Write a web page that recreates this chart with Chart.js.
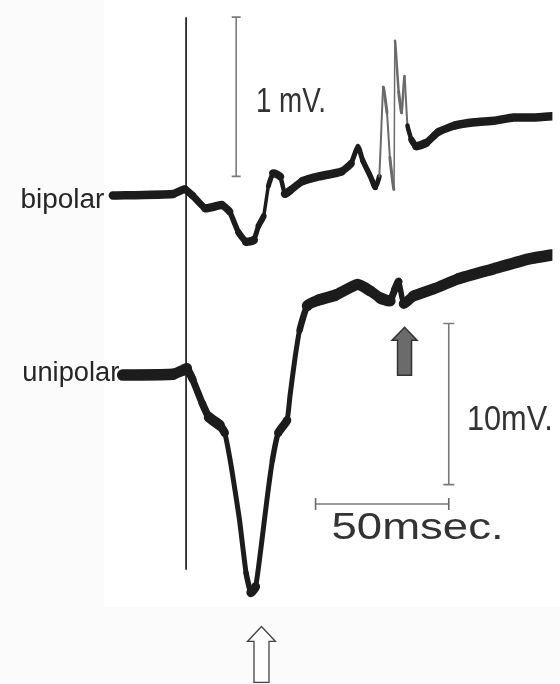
<!DOCTYPE html>
<html>
<head>
<meta charset="utf-8">
<style>
  html, body { margin: 0; padding: 0; background: #ffffff; }
  #wrap { width: 560px; height: 684px; }
</style>
<script src="https://cdn.jsdelivr.net/npm/chart.js@4.4.1/dist/chart.umd.min.js"></script>
</head>
<body>
<div id="wrap"><canvas id="c" width="560" height="684"></canvas></div>
<script>
// ---------- data (time in ms from the onset marker, voltages in mV) ----------
const TIME_BIPOLAR = [-27.5, -4.9, -0.5, 2.4, 7.2, 13.4, 16.3, 19.6, 22.5, 25.4, 27.2, 29.1, 30.9, 32.7, 35.3, 37.1, 38.9, 43.7, 49.9, 58.3, 61.9, 64.5, 66.3, 69.2, 71.0, 72.5, 74.0, 75.4, 76.5, 78.0, 78.4, 79.8, 80.9, 82.0, 83.1, 84.6, 86.4, 90.1, 94.8, 101.0, 108.3, 115.6, 122.9, 130.2, 139.3];
const BIPOLAR_MV   = [0.00, 0.01, 0.04, 0.00, -0.08, -0.06, -0.10, -0.23, -0.29, -0.28, -0.19, -0.13, 0.06, 0.14, 0.12, 0.01, 0.03, 0.09, 0.12, 0.15, 0.20, 0.31, 0.22, 0.12, 0.05, 0.12, 0.68, 0.52, 0.24, 0.04, 0.97, 0.65, 0.52, 0.75, 0.44, 0.35, 0.31, 0.33, 0.40, 0.44, 0.46, 0.47, 0.49, 0.49, 0.50];

const TIME_UNIPOLAR = [-23.8, -4.9, -1.2, 0.2, 2.4, 6.1, 8.6, 12.6, 14.5, 17.0, 20.0, 22.5, 24.3, 26.1, 28.0, 30.5, 32.4, 34.6, 37.9, 39.0, 40.8, 42.6, 45.5, 49.9, 56.1, 64.5, 69.2, 72.9, 76.5, 78.4, 79.8, 81.7, 85.3, 93.7, 102.5, 115.6, 128.8, 139.3];
const UNIPOLAR_MV   = [0.00, 0.05, 0.29, 0.41, -0.25, -1.77, -2.62, -3.11, -3.59, -5.72, -8.93, -12.27, -13.49, -13.13, -10.87, -7.54, -5.29, -3.59, -2.80, -1.29, 0.96, 2.78, 4.30, 4.66, 4.96, 5.63, 5.21, 4.78, 4.60, 5.33, 5.81, 4.42, 4.90, 5.39, 5.99, 6.60, 7.21, 7.51];

// onset marker (vertical line), in bipolar-axis mV
const ONSET_TIME = [0, 0];
const ONSET_MV   = [1.12, -2.35];

// calibration bars
const BAR_1MV_TIME  = [18.8, 18.8];
const BAR_1MV_MV    = [0.12, 1.12];
const BAR_10MV_TIME = [98.6, 98.6];
const BAR_10MV_MV   = [-6.8, 3.2];
const BAR_50MS_TIME = [48.6, 98.6];
const BAR_50MS_MV   = [-8.0, -8.0];

// text labels
const TRACE_LABELS = ["bipolar", "unipolar"];
const BAR_LABELS   = ["1 mV.", "10mV.", "50msec."];

// ---------- helpers ----------
const pts = (xs, ys) => xs.map((x, i) => ({ x: x, y: ys[i] }));

// pen trace: a band of roughly constant vertical height, thinner where it moves fast
function bandWidth(h, minW) {
  return function (ctx) {
    const dx = Math.abs(ctx.p1.x - ctx.p0.x);
    const dy = Math.abs(ctx.p1.y - ctx.p0.y);
    const len = Math.hypot(dx, dy) || 1;
    const w = Math.max(minW, h * Math.pow(dx / len, 0.5));
    return Math.round(w * 2) / 2;
  };
}
// the fast fractionated deflections are written faintly
function bandColor(h, minW, thin, thick, fromTime) {
  const f = bandWidth(h, minW);
  return function (ctx) {
    return (f(ctx) < 3.6 && ctx.p0.parsed.x >= fromTime) ? thin : thick;
  };
}

function fitText(ctx, text, x, y, size, family, width, color) {
  ctx.save();
  ctx.font = size + 'px ' + family;
  ctx.fillStyle = color;
  ctx.textBaseline = 'alphabetic';
  ctx.textAlign = 'left';
  const w = ctx.measureText(text).width;
  ctx.translate(x, y);
  ctx.scale(width / w, 1);
  ctx.fillText(text, 0, 0);
  ctx.restore();
}

function arrow(ctx, tx, ty, len, headHalf, headH, shaftHalf, fill, stroke, lw) {
  ctx.save();
  ctx.beginPath();
  ctx.moveTo(tx, ty);
  ctx.lineTo(tx + headHalf, ty + headH);
  ctx.lineTo(tx + shaftHalf, ty + headH);
  ctx.lineTo(tx + shaftHalf, ty + len);
  ctx.lineTo(tx - shaftHalf, ty + len);
  ctx.lineTo(tx - shaftHalf, ty + headH);
  ctx.lineTo(tx - headHalf, ty + headH);
  ctx.closePath();
  ctx.fillStyle = fill;
  ctx.fill();
  ctx.lineWidth = lw;
  ctx.strokeStyle = stroke;
  ctx.lineJoin = 'miter';
  ctx.stroke();
  ctx.restore();
}

const SANS = '"Liberation Sans", Arial, sans-serif';

const paperPlugin = {
  id: 'paper',
  beforeDraw(chart) {
    const ctx = chart.ctx;
    ctx.save();
    ctx.fillStyle = '#fbfbfb';
    ctx.fillRect(0, 0, chart.width, chart.height);
    ctx.fillStyle = '#ffffff';
    ctx.fillRect(104, 0, chart.width - 104, 607);
    ctx.restore();
  }
};

const annotatePlugin = {
  id: 'annotate',
  afterDatasetsDraw(chart) {
    const ctx = chart.ctx;
    const sx = chart.scales.x, sb = chart.scales.yB, su = chart.scales.yU;
    // trace labels
    fitText(ctx, TRACE_LABELS[0], sx.getPixelForValue(-62.2), sb.getPixelForValue(-0.079), 27, SANS, 84, '#262626');
    fitText(ctx, TRACE_LABELS[1], sx.getPixelForValue(-61.5), su.getPixelForValue(-0.38), 27, SANS, 97, '#262626');
    // calibration labels
    fitText(ctx, BAR_LABELS[0], sx.getPixelForValue(26.2), sb.getPixelForValue(0.523), 35, SANS, 70, '#333333');
    fitText(ctx, BAR_LABELS[1], sx.getPixelForValue(105.4), su.getPixelForValue(-3.43), 35, SANS, 86, '#333333');
    fitText(ctx, BAR_LABELS[2], sx.getPixelForValue(54.6), su.getPixelForValue(-10.15), 36, SANS, 172, '#333333');
    // arrows
    arrow(ctx, sx.getPixelForValue(82.0), su.getPixelForValue(2.96), 48, 12.5, 13, 7, '#6b6b6b', '#333333', 1.5);
    arrow(ctx, sx.getPixelForValue(28.3), su.getPixelForValue(-15.6), 56, 14, 15, 7.5, '#ffffff', '#444444', 1.3);
  }
};

new Chart(document.getElementById('c'), {
  type: 'line',
  data: {
    datasets: [
      {
        label: 'bipolar',
        data: pts(TIME_BIPOLAR, BIPOLAR_MV),
        yAxisID: 'yB',
        borderColor: '#1c1c1c',
        borderWidth: 8,
        borderCapStyle: 'round',
        borderJoinStyle: 'round',
        tension: 0.15,
        pointRadius: 0,
        segment: {
          borderWidth: bandWidth(8.5, 1.6),
          borderColor: bandColor(8.5, 1.6, '#6a6a6a', '#1c1c1c', 70)
        }
      },
      {
        label: 'unipolar',
        data: pts(TIME_UNIPOLAR, UNIPOLAR_MV),
        yAxisID: 'yU',
        borderColor: '#1c1c1c',
        borderWidth: 11,
        borderCapStyle: 'round',
        borderJoinStyle: 'round',
        tension: 0.15,
        pointRadius: 0,
        segment: {
          borderWidth: bandWidth(11.5, 5)
        }
      },
      {
        label: 'onset',
        data: pts(ONSET_TIME, ONSET_MV),
        yAxisID: 'yB',
        borderColor: '#2a2a2a',
        borderWidth: 1.8,
        pointRadius: 0
      },
      {
        label: '1 mV',
        data: pts(BAR_1MV_TIME, BAR_1MV_MV),
        yAxisID: 'yB',
        borderColor: '#7a7a7a',
        borderWidth: 1.6,
        pointStyle: 'line',
        pointRadius: 4.5,
        pointBorderWidth: 1.6,
        pointBorderColor: '#7a7a7a'
      },
      {
        label: '10 mV',
        data: pts(BAR_10MV_TIME, BAR_10MV_MV),
        yAxisID: 'yU',
        borderColor: '#7a7a7a',
        borderWidth: 1.6,
        pointStyle: 'line',
        pointRadius: 5.5,
        pointBorderWidth: 1.6,
        pointBorderColor: '#7a7a7a'
      },
      {
        label: '50 ms',
        data: pts(BAR_50MS_TIME, BAR_50MS_MV),
        yAxisID: 'yU',
        borderColor: '#7a7a7a',
        borderWidth: 1.6,
        pointStyle: 'line',
        pointRotation: 90,
        pointRadius: 6,
        pointBorderWidth: 1.6,
        pointBorderColor: '#6a6a6a'
      }
    ]
  },
  options: {
    responsive: false,
    animation: false,
    events: [],
    layout: { padding: 0 },
    plugins: { legend: { display: false }, tooltip: { enabled: false } },
    scales: {
      x:  { type: 'linear', min: -67, max: 137.5, display: false },
      yB: { type: 'linear', min: -3.02, max: 1.18, display: false },
      yU: { type: 'linear', min: -18.7, max: 22.8, display: false }
    }
  },
  plugins: [paperPlugin, annotatePlugin]
});
</script>
</body>
</html>
